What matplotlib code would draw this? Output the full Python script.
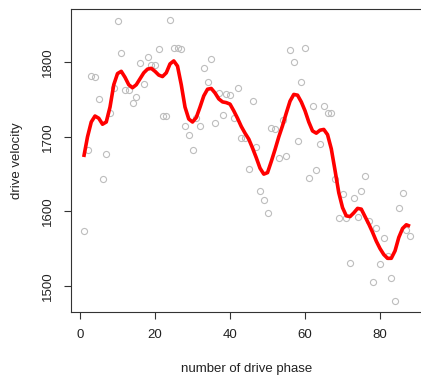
import matplotlib
matplotlib.use('Agg')
import matplotlib.pyplot as plt
import numpy as np

plt.rcParams.update({
    'font.family': ['Liberation Sans', 'DejaVu Sans'],
    'font.size': 9.5,
    'axes.linewidth': 0.8,
    'axes.edgecolor': '#333333',
    'xtick.color': '#333333',
    'ytick.color': '#333333',
})

# ── Data ────────────────────────────────────────────────────
phase = np.arange(1, 89)
velocity = [
    1574, 1683, 1782, 1780, 1751, 1644, 1677, 1732, 1766, 1855,
    1812, 1763, 1763, 1746, 1753, 1799, 1771, 1807, 1797, 1797,
    1818, 1728, 1728, 1857, 1819, 1819, 1818, 1715, 1703, 1682,
    1725, 1715, 1793, 1774, 1805, 1719, 1759, 1729, 1758, 1756,
    1726, 1766, 1698, 1698, 1657, 1748, 1687, 1628, 1615, 1598,
    1712, 1711, 1672, 1723, 1675, 1816, 1801, 1695, 1774, 1819,
    1645, 1742, 1656, 1691, 1741, 1732, 1732, 1644, 1591, 1623,
    1591, 1531, 1618, 1593, 1628, 1647, 1587, 1505, 1578, 1529,
    1564, 1540, 1511, 1480, 1605, 1625, 1575, 1567,
]

# smoothed trend, one value per drive phase
trend = [
    1673, 1700, 1720, 1728, 1725, 1717, 1720, 1740, 1770, 1785,
    1788, 1780, 1770, 1766, 1770, 1778, 1786, 1791, 1792, 1788,
    1783, 1781, 1786, 1798, 1802, 1795, 1770, 1740, 1724, 1720,
    1726, 1740, 1755, 1764, 1765, 1759, 1751, 1747, 1746, 1744,
    1735, 1725, 1714, 1705, 1697, 1685, 1672, 1658, 1650, 1652,
    1667, 1683, 1700, 1715, 1732, 1748, 1757, 1756, 1747, 1735,
    1720, 1708, 1705, 1709, 1710, 1703, 1684, 1655, 1625, 1605,
    1594, 1593, 1598, 1604, 1603, 1593, 1583, 1572, 1560, 1550,
    1542, 1537, 1537, 1547, 1565, 1577, 1582, 1580,
]

xticks = [0, 20, 40, 60, 80]
yticks = [1500, 1600, 1700, 1800]

W, H = 421, 382
fig = plt.figure(figsize=(W / 100, H / 100), dpi=100)
ax = fig.add_axes([70.7 / W, 1 - 312 / H, 352.4 / W, 303.3 / H])

ax.plot(phase, velocity, 'o', ms=4.4, mfc='none', mec='#bdbdbd', mew=0.8)
ax.plot(phase, trend, color='#ff0000', lw=2.6, solid_capstyle='butt')

ax.set_xlim(-2.48, 91.48)
ax.set_ylim(1464.9, 1872.1)
ax.set_xticks(xticks)
ax.set_yticks(yticks)
ax.set_yticklabels([str(v) for v in yticks], rotation=90, va='center')
ax.tick_params(length=5, width=0.8, labelsize=9.5, labelcolor='#222222')
ax.tick_params(axis='x', pad=7)
ax.tick_params(axis='y', pad=7)

ax.set_xlabel('number of drive phase', fontsize=9.5, color='#222222', labelpad=16)
ax.set_ylabel('drive velocity', fontsize=9.5, color='#222222', labelpad=14)

fig.savefig('out.png', dpi=100)
